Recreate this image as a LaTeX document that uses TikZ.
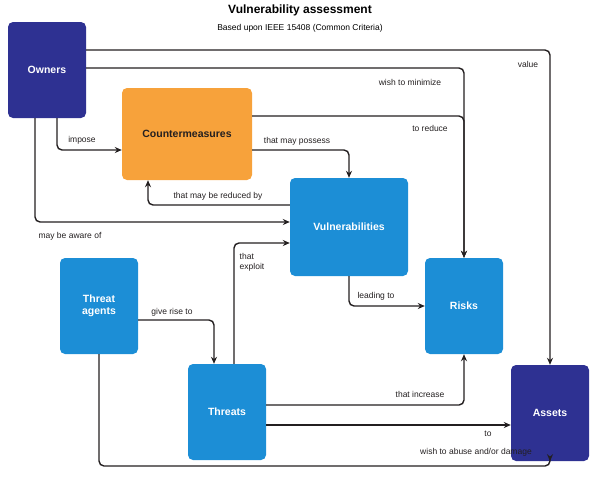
\documentclass[tikz,border=0pt]{standalone}
\usepackage{fontspec}
\setmainfont{Liberation Sans}
\usetikzlibrary{arrows.meta}
\definecolor{dblue}{HTML}{2E3192}
\definecolor{lblue}{HTML}{1C8ED6}
\definecolor{orng}{HTML}{F7A23B}
\definecolor{lin}{HTML}{231F20}
\begin{document}
\begin{tikzpicture}[x=1pt,y=-1pt,
 box/.style={rounded corners=5pt,minimum width=78pt,minimum height=96pt,font=\fontsize{10.5}{12}\selectfont\bfseries,text=white,align=center,inner sep=0pt},
 con/.style={draw=lin,line width=1.4pt,rounded corners=5pt,-{Stealth[length=7pt,width=6pt]}},
 lab/.style={font=\fontsize{8.5}{10}\selectfont,text=lin,inner sep=1pt,align=left}]
\useasboundingbox (0,0) rectangle (600,491);
\node[font=\fontsize{12}{14}\selectfont\bfseries] (title) at (300,10) {Vulnerability assessment};
\node[font=\fontsize{8.5}{10}\selectfont] (sub) at (300,28) {Based upon IEEE 15408 (Common Criteria)};
\node[box,fill=dblue] (own) at (47,70) {Owners};
\node[box,fill=orng,text=lin,minimum width=130pt,minimum height=92pt] (cm) at (187,134) {Countermeasures};
\node[box,fill=lblue,minimum width=118pt,minimum height=98pt] (vul) at (349,227) {Vulnerabilities};
\node[box,fill=lblue] (ta) at (99,306) {Threat\\agents};
\node[box,fill=lblue] (risk) at (464,306) {Risks};
\node[box,fill=lblue] (thr) at (227,412) {Threats};
\node[box,fill=dblue] (ast) at (550,413) {Assets};
\draw[con] (own.east |- 0,50) -| (ast.north);
\draw[con] (own.east |- 0,68) -| (risk.north);
\draw[con] (cm.east |- 0,116) -| (risk.north);
\draw[con] (own.south -| 57,0) |- (cm.west |- 0,150);
\draw[con] (own.south -| 35,0) |- (vul.west |- 0,222);
\draw[con] (cm.east |- 0,150) -| (vul.north);
\draw[con] (vul.west |- 0,205) -| (cm.south -| 148,0);
\draw[con] (ta.east |- 0,320) -| (thr.north -| 214,0);
\draw[con] (thr.north -| 234,0) |- (vul.west |- 0,243);
\draw[con] (vul.south) |- (risk.west |- 0,306);
\draw[con] (thr.east |- 0,405) -| (risk.south);
\draw[con] (thr.east |- 0,425) -- (ast.west |- 0,425);
\draw[con] (ta.south) |- (300,466) -| (ast.south);
\node[lab] (l1) at (528,64) {value};
\node[lab] (l2) at (410,82) {wish to minimize};
\node[lab] (l3) at (430,128) {to reduce};
\node[lab] (l4) at (82,140) {impose};
\node[lab] (l5) at (70,236) {may be aware of};
\node[lab] (l6) at (297,141) {that may possess};
\node[lab] (l7) at (218,196) {that may be reduced by};
\node[lab] (l8) at (172,312) {give rise to};
\node[lab] (l9) at (252,262) {that\\exploit};
\node[lab] (l10) at (376,296) {leading to};
\node[lab] (l11) at (420,394) {that increase};
\node[lab] (l12) at (488,434) {to};
\node[lab] (l13) at (476,452) {wish to abuse and/or damage};
\end{tikzpicture}
\end{document}
